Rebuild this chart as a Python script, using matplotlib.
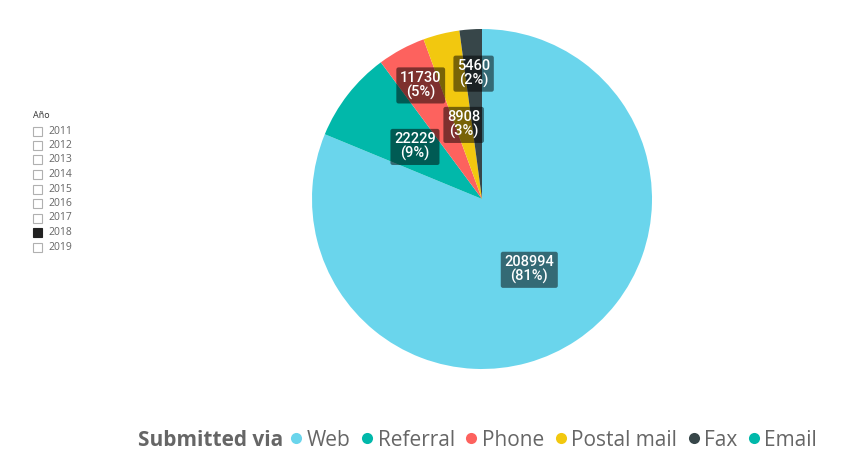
import matplotlib
matplotlib.use("Agg")
import matplotlib.pyplot as plt
from matplotlib.lines import Line2D
import numpy as np

# data
channels = ["Web", "Referral", "Phone", "Postal mail", "Fax", "Email"]
counts = [208994, 22229, 11730, 8908, 5460, 0]
colors = ["#6AD5EC", "#01B8AA", "#FD625E", "#F2C80F", "#374649", "#01B8AA"]
years = ["2011", "2012", "2013", "2014", "2015", "2016", "2017", "2018", "2019"]
selected_year = "2018"

# radial position of each data label (fraction of radius)
label_r = [0.5, 0.5, 0.76, 0.45, 0.74, 0.5]

plt.rcParams['font.family'] = ['Open Sans', 'DejaVu Sans']

W, H = 856, 458
fig = plt.figure(figsize=(W / 100, H / 100), dpi=100)

# pie
ax = fig.add_axes([312 / W, 89 / H, 340 / W, 340 / H])
wedges, _ = ax.pie(counts, colors=colors, startangle=90, counterclock=False,
                   wedgeprops=dict(linewidth=0))
ax.set_xlim(-1, 1)
ax.set_ylim(-1, 1)
ax.set_aspect('equal')
ax.axis('off')

total = sum(counts)
for w, c, r in zip(wedges, counts, label_r):
    if c == 0:
        continue
    ang = np.deg2rad((w.theta1 + w.theta2) / 2)
    x, y = r * np.cos(ang), r * np.sin(ang)
    ax.text(x, y, f"{c}\n({c / total * 100:.0f}%)", ha='center', va='center',
            fontsize=10.5, fontweight='medium', color='white', family='Roboto',
            linespacing=1.0,
            bbox=dict(boxstyle='round,pad=0.25,rounding_size=0.15',
                      facecolor='black', alpha=0.5, edgecolor='none'))

# year slicer
fig.text(33 / W, 1 - 116 / H, "Año", fontsize=6.5, color='#333333', va='center')
for i, yr in enumerate(years):
    yy = 1 - (131 + i * 14.5) / H
    sel = yr == selected_year
    fig.patches.append(plt.Rectangle((33 / W, yy - 4.5 / H), 9 / W, 9 / H,
                                     transform=fig.transFigure,
                                     facecolor='#222222' if sel else 'white',
                                     edgecolor='#222222' if sel else '#b0b0b0',
                                     linewidth=0.8))
    fig.text(48 / W, yy, yr, fontsize=7.5, color='#666666', va='center')

# legend
ly = 1 - 440 / H
fig.text(138 / W, ly, "Submitted via", fontsize=15, fontweight='bold',
         color='#666666', va='center')
handles = [Line2D([], [], marker='o', linestyle='none', markersize=8,
                  markerfacecolor=c, markeredgecolor='none') for c in colors]
fig.legend(handles, channels, loc='center left', bbox_to_anchor=(286 / W, ly),
           ncol=len(channels), frameon=False, fontsize=15, labelcolor='#666666',
           handletextpad=0.0, columnspacing=0.3, handlelength=1.0,
           borderaxespad=0, borderpad=0)

fig.savefig("out.png", dpi=100)
